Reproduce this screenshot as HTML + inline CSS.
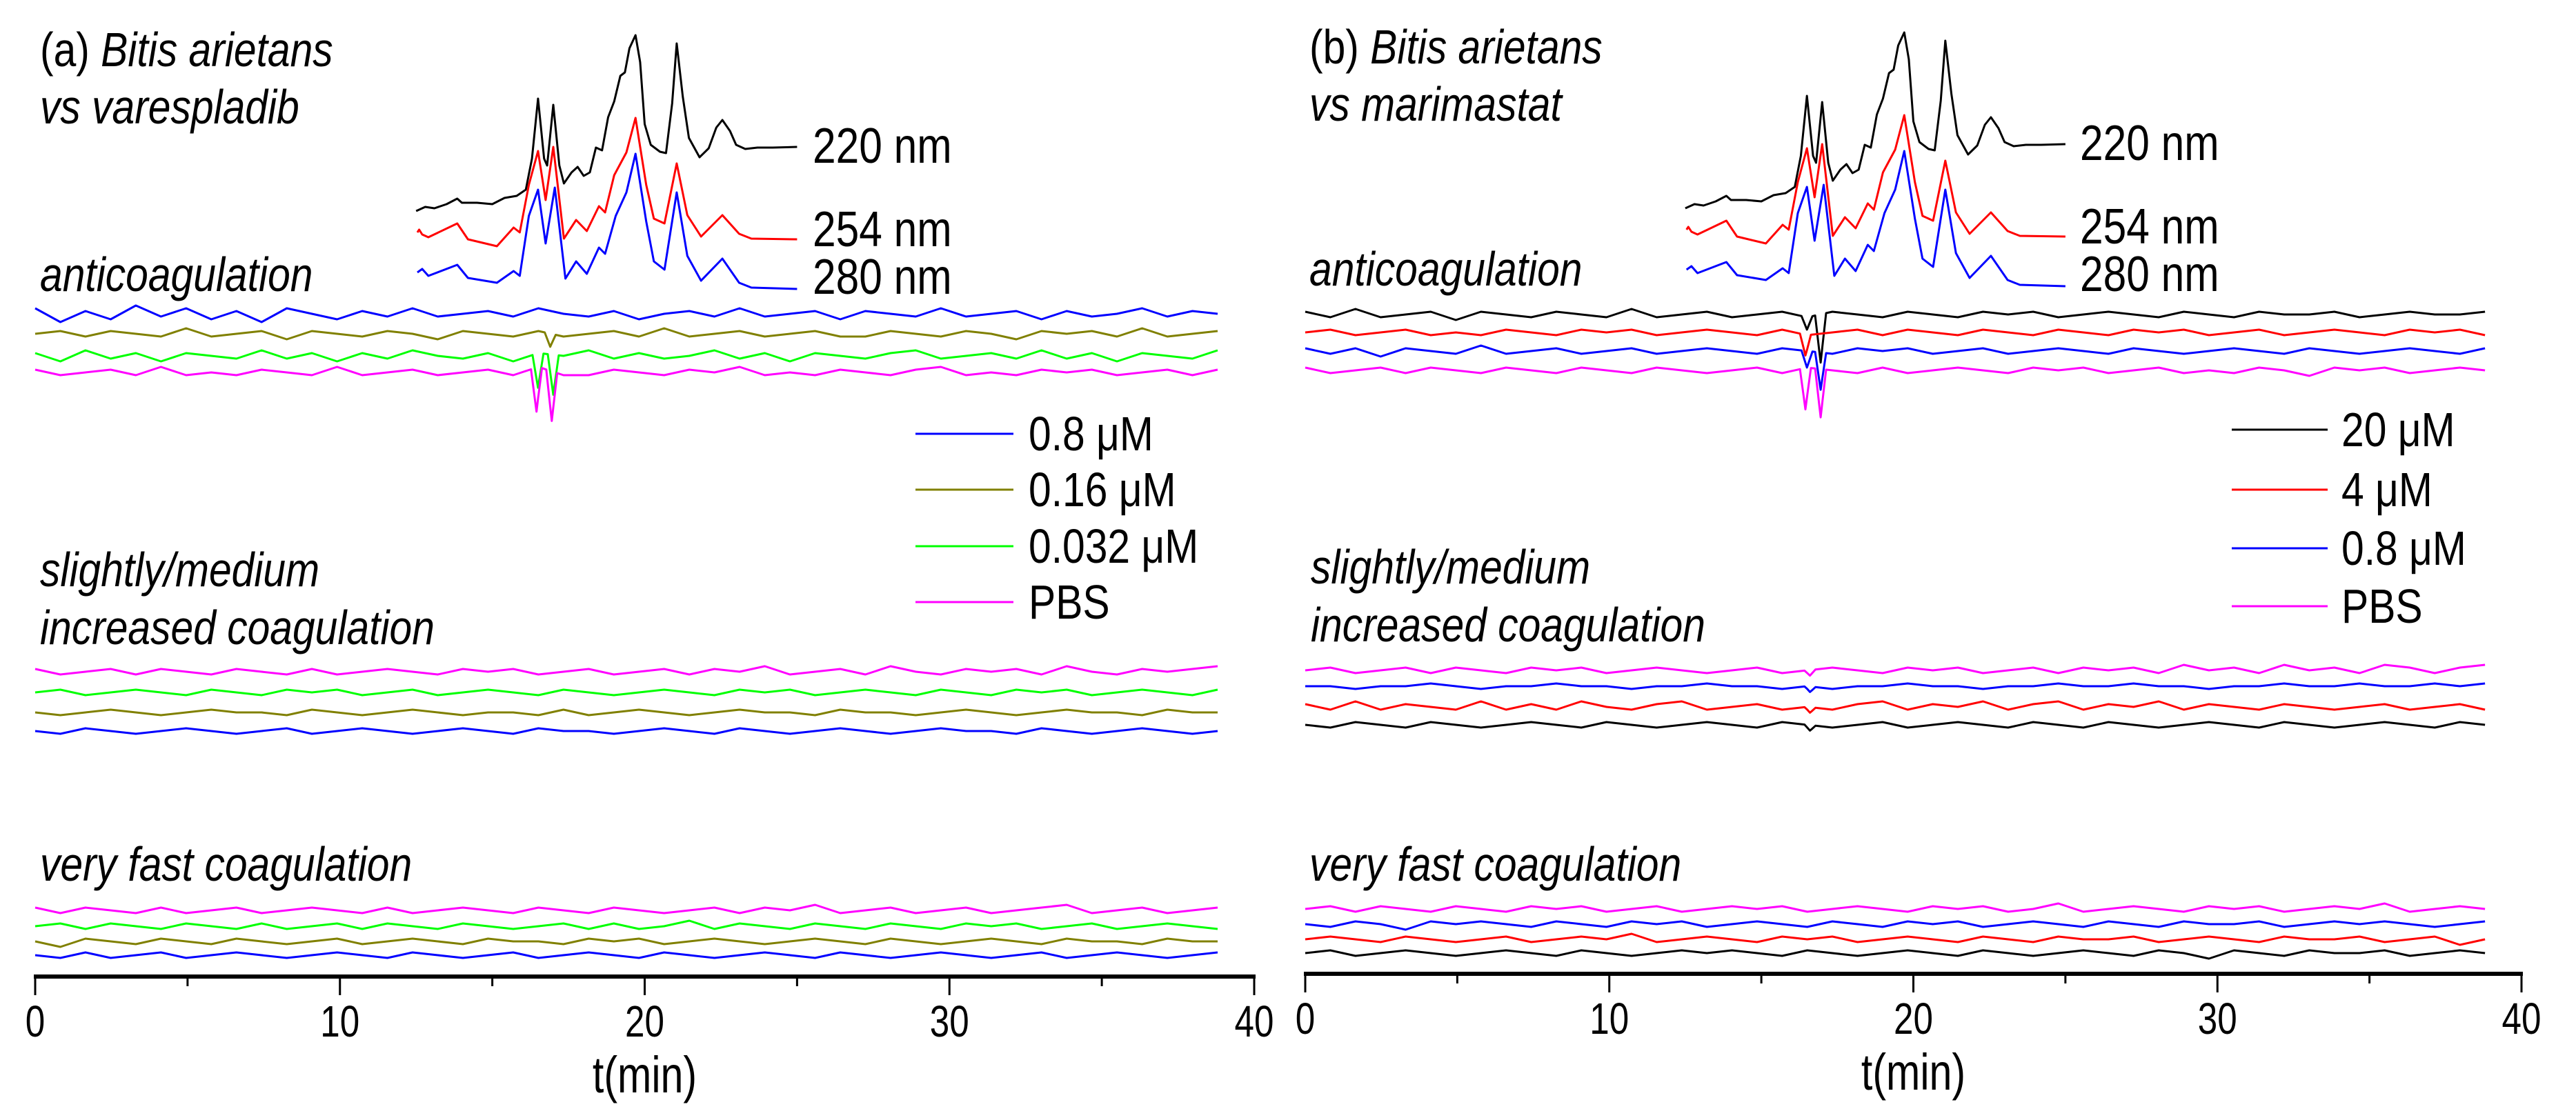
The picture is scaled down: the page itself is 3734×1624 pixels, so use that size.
<!DOCTYPE html>
<html><head><meta charset="utf-8">
<style>
html,body{margin:0;padding:0;background:#fff;}
svg{display:block;}
text{font-family:"Liberation Sans",sans-serif;fill:#000;}
</style></head>
<body>
<svg id="fig" width="3734" height="1624" viewBox="0 0 3734 1624" xmlns="http://www.w3.org/2000/svg"></svg>
<script>
// ---------- data ----------
const tickValues = [0,10,20,30,40];
const minorTicks = [5,15,25,35];
// chromatogram – time (min) and signal (a.u.)
const chromT220 = [12.5,12.8,13.1,13.5,13.85,14.0,14.5,15.0,15.4,15.8,16.1,16.3,16.5,16.7,16.8,17.0,17.2,17.35,17.6,17.8,18.0,18.2,18.4,18.6,18.8,19.0,19.2,19.35,19.5,19.7,19.85,20.0,20.2,20.5,20.7,20.9,21.05,21.25,21.45,21.8,22.1,22.35,22.55,22.8,23.0,23.3,23.7,24.2,25.0];
const chromV220 = [0,3,2,5,9,6,6,5,9.5,11,15.5,38,81.5,38,33,77,33,20,28,32,25.5,28,46,44,68,79.5,98,100.5,118,127.5,108,63,48,43,42,78,121.5,83,53,39,45.5,60.5,66,58,48,45,46,46,46.5];
const chromT254 = [12.54,12.6,12.7,12.9,13.85,14.2,15.15,15.7,15.9,16.2,16.5,16.75,17.0,17.35,17.75,18.1,18.5,18.7,19.0,19.4,19.7,20.05,20.3,20.65,21.05,21.4,21.85,22.55,23.1,23.5,25.0];
const chromV254 = [0,2,-1.5,-3.5,6.5,-5,-10,3.5,0,34.5,59,23.5,62,-4.5,9,1,19,14.5,41.5,58,83,34.5,10,6.5,50,12.5,-3,12.5,-1,-4.5,-5];
const chromT280 = [12.54,12.7,12.9,13.85,14.2,15.15,15.7,15.9,16.2,16.5,16.75,17.05,17.4,17.75,18.1,18.5,18.7,19.05,19.4,19.7,20.05,20.3,20.65,21.05,21.4,21.85,22.55,23.1,23.5,25.0];
const chromV280 = [0,2.5,-2.5,5.5,-4,-7.5,1,-2.5,41,60,21,61.5,-4.5,8,-1,18,13.5,41,58,86,37,8,2,58,12,-6,10,-7.5,-11,-12];
// coagulation traces: 48 samples each from t=0 to 38.8 min
const laBlue=[2,-3,1,-2,3,-1,2,-2,1,-3,2,0,-2,1,-1,2,-1,0,1,-1,2,0,-1,1,-2,0,1,-1,2,-1,0,1,-2,1,0,-1,2,-1,0,1,-2,1,-1,0,2,-1,1,0];
const laOlive=[0,1,-1,1,0,-1,2,-1,0,1,-2,1,0,-1,1,0,-2,1,0,-1,1,-1,0,1,-1,2,-1,0,1,-1,0,1,-1,-1,1,0,-1,1,0,-2,1,0,1,-1,2,-1,0,1];
const laGreen=[1,-2,2,-1,1,-2,1,0,-1,2,-1,1,-2,1,-1,2,0,-1,1,-2,1,0,2,-1,1,-1,0,2,-1,1,-2,1,0,-1,1,2,-1,0,1,-1,2,-1,1,-2,1,0,-1,2];
const laMag=[1,-1,0,1,-1,2,-1,0,-1,1,0,-1,2,-1,0,1,-1,0,1,-1,2,-1,-1,1,0,-1,1,0,2,-1,0,-1,1,0,-1,1,2,-1,0,-1,1,0,1,-1,0,1,-1,1];
const lmMag=[1,-1,0,1,-1,1,0,-1,1,0,-1,1,-1,0,1,0,-1,1,0,1,-1,0,1,-1,0,1,-1,1,0,2,-1,0,1,-1,2,0,-1,1,0,1,-1,2,0,-1,1,0,1,2];
const lmGreen=[0,1,-1,0,1,0,-1,1,0,-1,1,0,1,-1,0,1,-1,0,1,0,-1,1,0,-1,0,1,0,-1,1,0,1,-1,0,1,0,-1,1,0,-1,1,0,1,-1,0,1,0,-1,1];
const lmOlive=[0,-1,0,1,0,-1,0,1,0,0,-1,1,0,-1,0,1,0,-1,0,0,-1,1,-1,0,1,0,-1,0,1,0,0,-1,1,0,0,-1,0,1,0,-1,0,1,0,0,-1,1,0,0];
const lmBlue=[0,-1,1,0,-1,0,1,0,-1,0,1,-1,0,1,0,-1,0,1,0,-1,1,0,0,-1,0,1,0,-1,1,0,-1,0,1,0,-1,0,1,0,0,-1,1,0,-1,0,1,0,-1,0];
const lfMag=[1,-1,1,0,-1,1,-1,0,1,-1,0,1,0,-1,1,-1,0,1,0,-1,1,0,-1,1,0,-1,0,1,-1,1,0,2,-1,0,1,-1,0,1,-1,0,1,2,-1,0,1,-1,0,1];
const lfGreen=[0,1,-1,1,0,-1,1,0,-1,1,-1,0,1,-1,1,0,-1,1,0,-1,0,1,-1,1,-1,0,2,-1,1,0,-1,1,0,-1,1,0,-1,1,0,1,-1,0,1,-1,0,1,0,-1];
const lfOlive=[0,-2,1,0,-1,1,0,-1,1,0,-1,0,1,-1,0,1,0,-1,1,0,0,-1,1,0,1,-1,0,1,0,-1,0,1,0,-1,1,0,-1,0,1,0,-1,1,0,0,-1,1,0,0];
const lfBlue=[0,-1,1,-1,0,1,-1,0,1,0,-1,0,1,0,-1,1,0,-1,0,1,-1,0,1,0,-1,1,0,-1,0,1,0,-1,1,0,-1,0,1,0,-1,0,1,-1,0,1,0,-1,0,1];
const raBlack=[1,-1,2,-1,0,1,-2,1,0,-1,1,0,-1,2,-1,0,1,-1,0,1,-1,1,0,-1,1,0,-1,1,0,1,-1,0,1,0,-1,1,0,-1,1,0,0,1,-1,0,1,0,0,1];
const raRed=[0,1,-1,0,1,-1,0,-1,1,0,-1,1,0,1,-1,0,1,0,-1,1,-1,0,1,-1,1,0,-1,1,0,-1,1,0,-1,1,0,1,-1,0,1,-1,0,1,0,-1,1,0,1,-1];
const raBlue=[1,-1,1,-2,1,0,-1,2,-1,0,1,-1,0,1,-1,0,1,0,-1,1,0,-1,1,0,1,-1,0,1,-1,0,1,0,-1,1,0,-1,0,1,0,-1,1,0,-1,0,1,0,-1,1];
const raMag=[1,-1,0,1,-1,1,0,-1,1,0,-1,1,0,-1,1,0,-1,0,1,-1,1,0,-1,1,-1,0,1,0,-1,1,0,1,-1,0,1,-1,0,-1,1,0,-2,1,0,1,-1,0,1,0];
const rmMag=[0,1,-1,0,1,-1,1,0,-1,1,0,1,-1,0,1,0,-1,0,1,-1,0,1,0,-1,1,0,1,-1,0,1,-1,1,0,1,-1,2,0,1,-1,2,0,1,-1,2,1,-1,1,2];
const rmBlue=[0,0,-1,0,0,1,0,-1,0,0,1,0,0,-1,0,0,1,0,0,-1,0,-1,0,0,1,0,0,-1,0,0,1,0,0,1,0,0,-1,0,0,1,0,0,1,0,0,1,0,1];
const rmRed=[1,-1,2,-1,1,0,-1,2,-1,1,-1,2,0,-1,1,2,-1,0,1,-1,0,-1,1,2,-1,1,0,2,-1,1,2,-1,1,0,2,-1,1,0,-1,1,0,-1,0,1,-1,0,1,-1];
const rmBlack=[0,-1,1,0,-1,1,0,-1,0,1,0,-1,1,0,-1,0,1,0,-1,1,0,-1,0,1,-1,0,1,0,-1,1,0,-1,1,0,-1,0,1,0,-1,1,0,-1,0,1,0,-1,1,0];
const rfMag=[0,1,-1,1,0,-1,1,0,-1,1,0,1,-1,0,1,-1,0,1,0,1,-1,0,1,0,-1,1,0,1,-1,0,2,-1,0,1,0,-1,1,0,1,-1,0,1,0,2,-1,0,1,0];
const rfBlue=[0,-1,1,0,-2,1,0,1,0,-1,1,0,-1,1,0,1,-1,0,1,0,-1,1,0,-1,1,0,1,-1,0,1,0,-1,1,0,-1,1,0,0,1,-1,0,1,0,1,0,-1,0,1];
const rfRed=[0,1,0,-1,1,0,-1,0,1,-1,0,1,0,2,-1,0,1,0,-1,1,0,1,-1,0,1,0,-1,1,0,-1,1,0,0,1,-1,0,1,0,-1,1,0,0,1,-1,0,1,-2,0];
const rfBlack=[0,1,-1,0,1,0,-1,0,1,0,-1,1,0,-1,0,1,0,1,0,-1,1,0,-1,0,1,0,-1,1,0,-1,0,1,0,-1,1,0,-2,1,0,-1,1,0,0,1,-1,0,1,0];
// anticoagulation dips: time (min), depth (a.u.)
const dipLOliveT=[16.9], dipLOliveD=[9.5];
const dipLGreenT=[16.5,17.0], dipLGreenD=[25,29];
const dipLMagT=[16.45,16.95], dipLMagD=[32,36];
const dipRBlackT=[16.5,16.95], dipRBlackD=[9,35];
const dipRRedT=[16.45], dipRRedD=[15];
const dipRBlueT=[16.5,16.95], dipRBlueD=[12,27];
const dipRMagT=[16.45,16.95], dipRMagD=[30,35];
const dipRMidT=[16.6], dipRMidD=[4];
const legendLeft=["0.8 \u03bcM","0.16 \u03bcM","0.032 \u03bcM","PBS"];
const legendRight=["20 \u03bcM","4 \u03bcM","0.8 \u03bcM","PBS"];

// ---------- drawing ----------
const NS="http://www.w3.org/2000/svg";
const svg=document.getElementById('fig');
const BLUE="#0000ff",OLIVE="#808000",GREEN="#00ff00",MAG="#ff00ff",RED="#ff0000",BLACK="#000000";
function el(tag,attrs,parent){const e=document.createElementNS(NS,tag);for(const k in attrs)e.setAttribute(k,attrs[k]);(parent||svg).appendChild(e);return e;}
function txt(str,x,y,size,italic,name,parent){
  const t=el('text',{x:0,y:0,'font-size':size,transform:`translate(${x},${y}) scale(0.84,1)`},parent);
  if(italic)t.setAttribute('font-style','italic');
  t.textContent=str;
  
  
  return t;
}
const NOISE_PX=4, DIP_PX=2, CHROM_PX=2;
function noiseTimes(n){const a=[];for(let i=0;i<n;i++)a.push(38.8*i/(n-1));return a;}
function valueAt(ts,vs,t){
  if(t<=ts[0])return vs[0];
  for(let i=1;i<ts.length;i++){if(t<=ts[i]){const f=(t-ts[i-1])/(ts[i]-ts[i-1]);return vs[i-1]+f*(vs[i]-vs[i-1]);}}
  return vs[vs.length-1];
}
function panel(P){
  const g=el('g',{});
  
  
  const x=t=>P.x0+t*(P.x1-P.x0)/40;
  const ax=el('line',{x1:P.x0-2,x2:P.x1+2,y1:P.ay,y2:P.ay,stroke:'#000','stroke-width':6},g);
  
  
  tickValues.forEach(v=>{
    const tk=el('line',{x1:x(v),x2:x(v),y1:P.ay,y2:P.ay+27,stroke:'#000','stroke-width':3},g);
    
    
    const lb=txt(String(v),0,0,64,false,'x-tick-label',g);
    lb.setAttribute('text-anchor','middle');
    lb.setAttribute('transform',`translate(${x(v)},${P.ay+87}) scale(0.8,1)`);
  });
  minorTicks.forEach(v=>{
    const tk=el('line',{x1:x(v),x2:x(v),y1:P.ay,y2:P.ay+14,stroke:'#000','stroke-width':3},g);
    
    
  });
  const xt=txt('t(min)',0,0,74,false,'x-axis-title',g);
  xt.setAttribute('text-anchor','middle');
  xt.setAttribute('transform',`translate(${x(20)},${P.ay+168}) scale(0.8,1)`);
  [[chromT220,chromV220,BLACK,P.c220,'220 nm',P.l220],[chromT254,chromV254,RED,P.c254,'254 nm',P.l254],[chromT280,chromV280,BLUE,P.c280,'280 nm',P.l280]].forEach(([ts,vs,col,y0,lab,ly])=>{
    const pts=ts.map((t,i)=>`${x(t).toFixed(1)},${(y0-vs[i]*CHROM_PX).toFixed(1)}`).join(' ');
    const pl=el('polyline',{points:pts,fill:'none',stroke:col,'stroke-width':3,'stroke-linejoin':'round'},g);
    
    
    txt(lab,P.labX,ly,72,false,'chromatogram-label',g);
  });
  P.traces.forEach(tr=>{
    const nt=noiseTimes(tr.v.length);
    let times=nt.slice();
    (tr.dt||[]).forEach(d=>{times.push(d-0.18,d-0.06,d,d+0.06,d+0.18);});
    times.sort((a,b)=>a-b);
    const pts=times.map(t=>{
      let v=valueAt(nt,tr.v,t)*NOISE_PX;
      (tr.dt||[]).forEach((d,i)=>{const w=0.18;const r=Math.abs(t-d);if(r<w)v-=tr.dd[i]*DIP_PX*(1-r/w);});
      return `${x(t).toFixed(1)},${(tr.y-v).toFixed(1)}`;
    }).join(' ');
    const pl=el('polyline',{points:pts,fill:'none',stroke:tr.c,'stroke-width':3,'stroke-linejoin':'round'},g);
    
    
  });
  P.texts.forEach(([s,tx,ty,it,n])=>{
    if(Array.isArray(s)){
      const t=el('text',{x:0,y:0,'font-size':70,transform:`translate(${tx},${ty}) scale(0.84,1)`},g);
      
      
      const a=el('tspan',{},t);a.textContent=s[0];
      const b=el('tspan',{'font-style':'italic'},t);b.textContent=s[1];
    } else txt(s,tx,ty,70,it,n,g);
  });
  const lg=el('g',{},g);
  
  
  P.legend.forEach((s,i)=>{
    const yy=P.legY[i];
    const ln=el('line',{x1:P.legX0,x2:P.legX1,y1:yy,y2:yy,stroke:P.legC[i],'stroke-width':3},lg);
    
    
    txt(s,P.legTX,yy+24,70,false,'legend-entry',lg);
  });
}
panel({name:'panel-a',x0:51,x1:1818,ay:1416,
  c220:306,c254:337,c280:395,labX:1178,l220:236,l254:357,l280:426,
  traces:[
    {v:laBlue,y:455,c:BLUE,n:'trace-a-anti-0.8uM'},
    {v:laOlive,y:484,c:OLIVE,n:'trace-a-anti-0.16uM',dt:dipLOliveT,dd:dipLOliveD},
    {v:laGreen,y:516,c:GREEN,n:'trace-a-anti-0.032uM',dt:dipLGreenT,dd:dipLGreenD},
    {v:laMag,y:540,c:MAG,n:'trace-a-anti-pbs',dt:dipLMagT,dd:dipLMagD},
    {v:lmMag,y:974,c:MAG,n:'trace-a-mid-pbs'},
    {v:lmGreen,y:1004,c:GREEN,n:'trace-a-mid-0.032uM'},
    {v:lmOlive,y:1033,c:OLIVE,n:'trace-a-mid-0.16uM'},
    {v:lmBlue,y:1060,c:BLUE,n:'trace-a-mid-0.8uM'},
    {v:lfMag,y:1320,c:MAG,n:'trace-a-fast-pbs'},
    {v:lfGreen,y:1343,c:GREEN,n:'trace-a-fast-0.032uM'},
    {v:lfOlive,y:1365,c:OLIVE,n:'trace-a-fast-0.16uM'},
    {v:lfBlue,y:1385,c:BLUE,n:'trace-a-fast-0.8uM'}],
  texts:[[['(a) ','Bitis arietans'],58,96,false,'panel-a-title'],['vs varespladib',58,179,true,'panel-a-subtitle'],
    ['anticoagulation',58,422,true,'anticoagulation-label'],['slightly/medium',58,850,true,'slightly-medium-label'],
    ['increased coagulation',58,934,true,'increased-coagulation-label'],['very fast coagulation',58,1277,true,'very-fast-coagulation-label']],
  legend:legendLeft,legC:[BLUE,OLIVE,GREEN,MAG],legY:[629,710,792,873],legX0:1327,legX1:1469,legTX:1491});
panel({name:'panel-b',x0:1892,x1:3655,ay:1412,
  c220:302,c254:333,c280:391,labX:3015,l220:232,l254:353,l280:422,
  traces:[
    {v:raBlack,y:456,c:BLACK,n:'trace-b-anti-20uM',dt:dipRBlackT,dd:dipRBlackD},
    {v:raRed,y:482,c:RED,n:'trace-b-anti-4uM',dt:dipRRedT,dd:dipRRedD},
    {v:raBlue,y:509,c:BLUE,n:'trace-b-anti-0.8uM',dt:dipRBlueT,dd:dipRBlueD},
    {v:raMag,y:537,c:MAG,n:'trace-b-anti-pbs',dt:dipRMagT,dd:dipRMagD},
    {v:rmMag,y:972,c:MAG,n:'trace-b-mid-pbs',dt:dipRMidT,dd:dipRMidD},
    {v:rmBlue,y:995,c:BLUE,n:'trace-b-mid-0.8uM',dt:dipRMidT,dd:dipRMidD},
    {v:rmRed,y:1025,c:RED,n:'trace-b-mid-4uM',dt:dipRMidT,dd:dipRMidD},
    {v:rmBlack,y:1051,c:BLACK,n:'trace-b-mid-20uM',dt:dipRMidT,dd:dipRMidD},
    {v:rfMag,y:1318,c:MAG,n:'trace-b-fast-pbs'},
    {v:rfBlue,y:1340,c:BLUE,n:'trace-b-fast-0.8uM'},
    {v:rfRed,y:1362,c:RED,n:'trace-b-fast-4uM'},
    {v:rfBlack,y:1382,c:BLACK,n:'trace-b-fast-20uM'}],
  texts:[[['(b) ','Bitis arietans'],1898,92,false,'panel-b-title'],['vs marimastat',1898,175,true,'panel-b-subtitle'],
    ['anticoagulation',1898,414,true,'anticoagulation-label'],['slightly/medium',1900,846,true,'slightly-medium-label'],
    ['increased coagulation',1900,930,true,'increased-coagulation-label'],['very fast coagulation',1898,1277,true,'very-fast-coagulation-label']],
  legend:legendRight,legC:[BLACK,RED,BLUE,MAG],legY:[623,710,795,879],legX0:3235,legX1:3374,legTX:3394});
</script>
</body></html>
